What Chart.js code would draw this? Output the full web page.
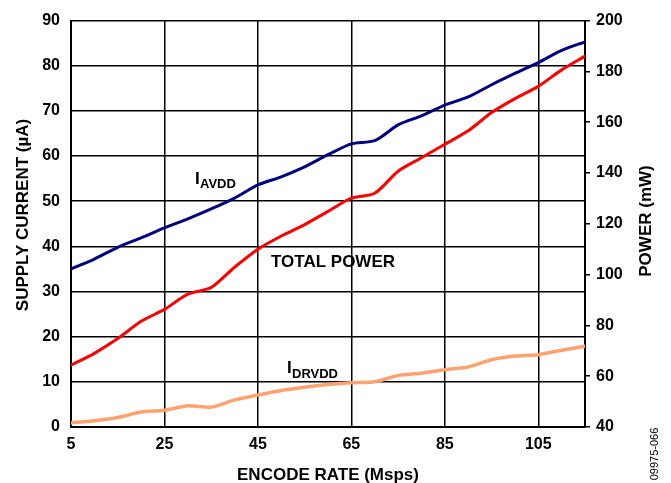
<!DOCTYPE html>
<html>
<head>
<meta charset="utf-8">
<script src="https://cdn.jsdelivr.net/npm/chart.js@4/dist/chart.umd.min.js"></script>
<style>
  html, body { margin: 0; padding: 0; background: #ffffff; }
  #wrap { width: 671px; height: 483px; }
</style>
</head>
<body>
<div id="wrap"><canvas id="c" width="671" height="483"></canvas></div>
<script>
// ---- data ----
const encodeRate = [5, 10, 15, 20, 25, 30, 35, 40, 45, 50, 55, 60, 65, 70, 75, 80, 85, 90, 95, 100, 105, 110, 115];
const iAVDD = [35.0, 37.2, 39.8, 41.9, 44.1, 46.1, 48.3, 50.7, 53.6, 55.4, 57.6, 60.3, 62.7, 63.4, 66.9, 68.9, 71.3, 73.1, 75.8, 78.3, 80.7, 83.4, 85.3];
const totalPower = [64.3, 69.0, 74.8, 81.6, 86.3, 92.3, 94.9, 102.9, 110.0, 115.2, 119.7, 124.9, 130.1, 132.0, 140.7, 146.0, 151.3, 156.6, 163.8, 169.3, 174.1, 180.6, 186.0];
const iDRVDD = [0.9, 1.4, 2.1, 3.3, 3.7, 4.7, 4.4, 6.0, 7.1, 8.1, 8.8, 9.4, 9.8, 10.0, 11.4, 11.9, 12.7, 13.3, 14.9, 15.7, 16.0, 17.0, 17.9];
const xTickLabels = [5, 25, 45, 65, 85, 105];
const xGridValues = [5, 25, 45, 65, 85, 105, 115];

const FONT = '"Liberation Sans", Arial, Helvetica, sans-serif';
Chart.defaults.font.family = FONT;
Chart.defaults.color = '#000000';

const textPlugin = {
  id: 'texts',
  afterDraw(chart) {
    const ctx = chart.ctx;
    ctx.save();
    ctx.fillStyle = '#000000';
    // axis titles
    ctx.font = 'bold 17px ' + FONT;
    ctx.textAlign = 'center';
    ctx.textBaseline = 'alphabetic';
    ctx.fillText('ENCODE RATE (Msps)', 328, 480);
    ctx.save();
    ctx.translate(28, 215);
    ctx.rotate(-Math.PI / 2);
    ctx.fillText('SUPPLY CURRENT (\u00B5A)', 0, 0);
    ctx.restore();
    ctx.save();
    ctx.translate(651, 221);
    ctx.rotate(-Math.PI / 2);
    ctx.fillText('POWER (mW)', 0, 0);
    ctx.restore();
    // series labels
    ctx.textAlign = 'left';
    ctx.font = 'bold 17px ' + FONT;
    ctx.fillText('I', 195, 183.5);
    ctx.fillText('TOTAL POWER', 271, 267);
    ctx.fillText('I', 287, 373);
    ctx.font = 'bold 13px ' + FONT;
    ctx.fillText('AVDD', 200, 187.5);
    ctx.fillText('DRVDD', 292, 377.5);
    // figure id
    ctx.font = '11px ' + FONT;
    ctx.textAlign = 'center';
    ctx.textBaseline = 'middle';
    ctx.save();
    ctx.translate(655, 454);
    ctx.rotate(-Math.PI / 2);
    ctx.fillText('09975-066', 0, 0);
    ctx.restore();
    ctx.restore();
  }
};

new Chart(document.getElementById('c'), {
  type: 'line',
  data: {
    labels: encodeRate,
    datasets: [
      {
        label: 'IAVDD',
        data: encodeRate.map((x, i) => ({ x: x, y: iAVDD[i] })),
        yAxisID: 'y',
        borderColor: '#000080',
        borderWidth: 3,
        tension: 0.25,
        pointRadius: 0,
        borderCapStyle: 'round',
        borderJoinStyle: 'round'
      },
      {
        label: 'TOTAL POWER',
        data: encodeRate.map((x, i) => ({ x: x, y: totalPower[i] })),
        yAxisID: 'y1',
        borderColor: '#FF0000',
        borderWidth: 3,
        tension: 0.25,
        pointRadius: 0,
        borderCapStyle: 'round',
        borderJoinStyle: 'round'
      },
      {
        label: 'IDRVDD',
        data: encodeRate.map((x, i) => ({ x: x, y: iDRVDD[i] })),
        yAxisID: 'y',
        borderColor: '#FFA271',
        borderWidth: 3.5,
        tension: 0.25,
        pointRadius: 0,
        borderCapStyle: 'round',
        borderJoinStyle: 'round'
      }
    ]
  },
  options: {
    responsive: false,
    animation: false,
    devicePixelRatio: 1,
    layout: { padding: { top: 15, left: 0, right: 0, bottom: 0 } },
    plugins: { legend: { display: false }, tooltip: { enabled: false }, title: { display: false } },
    scales: {
      x: {
        type: 'linear',
        min: 5,
        max: 115,
        afterBuildTicks(scale) { scale.ticks = xGridValues.map(v => ({ value: v })); },
        afterFit(scale) { scale.height = 56; },
        grid: { color: '#000000', lineWidth: 1.5, drawTicks: false },
        border: { color: '#000000', width: 2 },
        ticks: {
          padding: 8,
          maxRotation: 0,
          autoSkip: false,
          font: { size: 16, weight: 'bold' },
          color: '#000000',
          callback: (v) => xTickLabels.includes(v) ? String(v) : ''
        }
      },
      y: {
        position: 'left',
        min: 0,
        max: 90,
        afterFit(scale) { scale.width = 71; },
        grid: { color: '#000000', lineWidth: 1.5, drawTicks: false },
        border: { color: '#000000', width: 2 },
        ticks: { stepSize: 10, padding: 11, font: { size: 16, weight: 'bold' }, color: '#000000' }
      },
      y1: {
        position: 'right',
        min: 40,
        max: 200,
        afterFit(scale) { scale.width = 86; },
        grid: { drawOnChartArea: false, drawTicks: true, tickLength: 5, color: '#000000', lineWidth: 1.5 },
        border: { color: '#000000', width: 2 },
        ticks: { stepSize: 20, padding: 6, font: { size: 16, weight: 'bold' }, color: '#000000' }
      }
    }
  },
  plugins: [textPlugin]
});
</script>
</body>
</html>
